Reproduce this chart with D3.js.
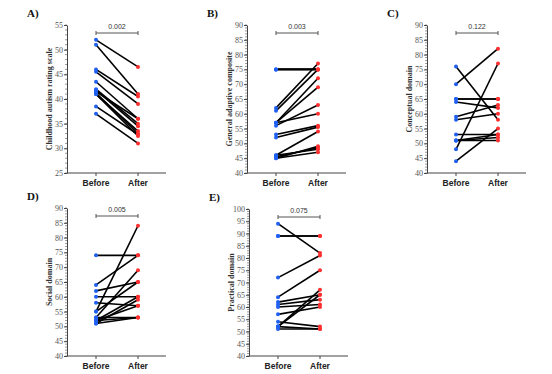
<!DOCTYPE html>
<html>
<head>
<meta charset="utf-8">
<script src="https://cdn.jsdelivr.net/npm/d3@7"></script>
<style>
  body { margin: 0; background: #fff; }
  svg { display: block; }
</style>
</head>
<body>
<div id="chart"></div>
<script>
// group labels
var groups = ["Before", "After"];

// A) Childhood autism rating scale
var carsBefore = [52, 51, 46, 45.5, 43.5, 42, 41.8, 41.5, 41.2, 41, 41, 38.5, 37];
var carsAfter  = [46.5, 41, 40.5, 39, 36, 35, 34.5, 36, 33, 32.5, 33.5, 32.8, 31];
var carsTicks  = [25, 30, 35, 40, 45, 50, 55];

// B) General adaptive composite
var gacBefore = [75, 75, 75, 62, 61, 57, 57, 56, 57, 53, 52, 46, 45, 45.5, 46, 45];
var gacAfter  = [75, 75, 75, 77, 75, 72, 69, 63, 60, 56, 55.5, 54, 49, 48.5, 48, 47];

// C) Conceptual domain
var conBefore = [76, 70, 65, 65, 64, 59, 58, 53, 51, 51, 51, 48, 44];
var conAfter  = [58, 82, 65, 65, 62, 63, 60, 53, 52, 51, 53, 77, 55];

// D) Social domain
var socBefore = [74, 64, 62, 60, 58, 55, 53, 52, 51, 52, 51, 53, 52, 55];
var socAfter  = [74, 74, 65, 60, 57, 84, 69, 60, 59, 57, 53, 53, 53, 65];

// E) Practical domain
var praBefore = [94, 89, 89, 72, 64, 62, 61, 60, 57, 54, 52, 52, 51, 52];
var praAfter  = [82, 89, 89, 81, 75, 65, 63, 61, 60, 52, 67, 65, 51, 51];

var ticks40to90  = [40, 45, 50, 55, 60, 65, 70, 75, 80, 85, 90];
var ticks40to100 = [40, 45, 50, 55, 60, 65, 70, 75, 80, 85, 90, 95, 100];

var letters = ["A)", "B)", "C)", "D)", "E)"];
var yTitles = ["Childhood autism rating scale", "General adaptive composite",
               "Conceptual domain", "Social domain", "Practical domain"];
var pValues = ["0.002", "0.003", "0.122", "0.005", "0.075"];

var W = 552, H = 374;
var svg = d3.select("#chart").append("svg")
    .attr("width", W).attr("height", H);

// panel layout: axis origin x, top y, bottom y
var panels = [
  { left: 67,  top: 25,  bottom: 173, before: carsBefore, after: carsAfter, domain: [25, 55], ticks: carsTicks },
  { left: 247, top: 25,  bottom: 173, before: gacBefore,  after: gacAfter,  domain: [40, 90], ticks: ticks40to90 },
  { left: 427, top: 25,  bottom: 173, before: conBefore,  after: conAfter,  domain: [40, 90], ticks: ticks40to90 },
  { left: 67,  top: 208, bottom: 356, before: socBefore,  after: socAfter,  domain: [40, 90], ticks: ticks40to90 },
  { left: 249, top: 209, bottom: 356, before: praBefore,  after: praAfter,  domain: [40, 100], ticks: ticks40to100 }
];

panels.forEach(function(p, i) {
  var g = svg.append("g");
  var plotW = 99;

  var x = d3.scalePoint()
      .domain(groups)
      .range([p.left + 29, p.left + 71]);
  var y = d3.scaleLinear()
      .domain(p.domain)
      .range([p.bottom, p.top]);

  // minor ticks, every 1 unit
  var minor = d3.range(p.domain[0], p.domain[1] + 1, 1);
  g.selectAll(".minor")
      .data(minor)
      .enter().append("line")
      .attr("x1", p.left - 2).attr("x2", p.left)
      .attr("y1", function(d) { return y(d); })
      .attr("y2", function(d) { return y(d); })
      .attr("stroke", "#555")
      .attr("stroke-width", 0.6);

  // y axis
  var yAx = g.append("g")
      .attr("transform", "translate(" + p.left + ",0)")
      .call(d3.axisLeft(y).tickValues(p.ticks).tickSize(3).tickSizeOuter(0).tickPadding(1));
  yAx.select(".domain").attr("stroke", "#444").attr("stroke-width", 1);
  yAx.selectAll(".tick line").attr("stroke", "#444");
  yAx.selectAll("text")
      .style("font-family", "'Liberation Serif', 'Times New Roman', serif")
      .style("font-size", "8px")
      .attr("fill", "#555");

  // x axis
  var xAx = g.append("g")
      .attr("transform", "translate(0," + p.bottom + ")");
  xAx.append("line")
      .attr("x1", p.left).attr("x2", p.left + plotW)
      .attr("stroke", "#444").attr("stroke-width", 1);
  xAx.selectAll(".xt")
      .data(groups)
      .enter().append("line")
      .attr("x1", function(d) { return x(d); })
      .attr("x2", function(d) { return x(d); })
      .attr("y1", 0).attr("y2", 3)
      .attr("stroke", "#444");
  xAx.selectAll(".xl")
      .data(groups)
      .enter().append("text")
      .attr("x", function(d) { return x(d); })
      .attr("y", 13)
      .attr("text-anchor", "middle")
      .style("font-family", "'Liberation Sans', Arial, sans-serif")
      .style("font-size", "8.5px")
      .style("font-weight", "bold")
      .attr("fill", "#222")
      .text(function(d) { return d; });

  // y axis title
  g.append("text")
      .attr("transform", "translate(" + (p.left - 15) + "," + ((p.top + p.bottom) / 2) + ") rotate(-90)")
      .attr("text-anchor", "middle")
      .style("font-family", "'Liberation Serif', 'Times New Roman', serif")
      .style("font-size", "8px")
      .style("font-weight", "bold")
      .attr("fill", "#333")
      .text(yTitles[i]);

  // panel letter
  g.append("text")
      .attr("x", p.left - 40)
      .attr("y", p.top - 8)
      .style("font-family", "'Liberation Serif', 'Times New Roman', serif")
      .style("font-size", "11px")
      .style("font-weight", "bold")
      .attr("fill", "#111")
      .text(letters[i]);

  // significance bracket
  var by = p.top + 8;
  g.append("path")
      .attr("d", "M" + x("Before") + "," + (by + 2) + "V" + (by - 2) + "M" + x("Before") + "," + by +
                 "H" + x("After") + "M" + x("After") + "," + (by - 2) + "V" + (by + 2))
      .attr("fill", "none")
      .attr("stroke", "#555")
      .attr("stroke-width", 1);
  g.append("text")
      .attr("x", (x("Before") + x("After")) / 2)
      .attr("y", by - 4)
      .attr("text-anchor", "middle")
      .style("font-family", "'Liberation Sans', Arial, sans-serif")
      .style("font-size", "7px")
      .attr("fill", "#333")
      .text(pValues[i]);

  // paired lines
  var pairs = p.before.map(function(b, k) { return { before: b, after: p.after[k] }; });
  g.selectAll(".pair")
      .data(pairs)
      .enter().append("line")
      .attr("x1", x("Before"))
      .attr("x2", x("After"))
      .attr("y1", function(d) { return y(d.before); })
      .attr("y2", function(d) { return y(d.after); })
      .attr("stroke", "#000")
      .attr("stroke-width", 1.6);

  // points
  g.selectAll(".pb")
      .data(p.before)
      .enter().append("circle")
      .attr("cx", x("Before"))
      .attr("cy", function(d) { return y(d); })
      .attr("r", 2)
      .attr("fill", "#2060f0");
  g.selectAll(".pa")
      .data(p.after)
      .enter().append("circle")
      .attr("cx", x("After"))
      .attr("cy", function(d) { return y(d); })
      .attr("r", 2)
      .attr("fill", "#ff3030");
});
</script>
</body>
</html>
